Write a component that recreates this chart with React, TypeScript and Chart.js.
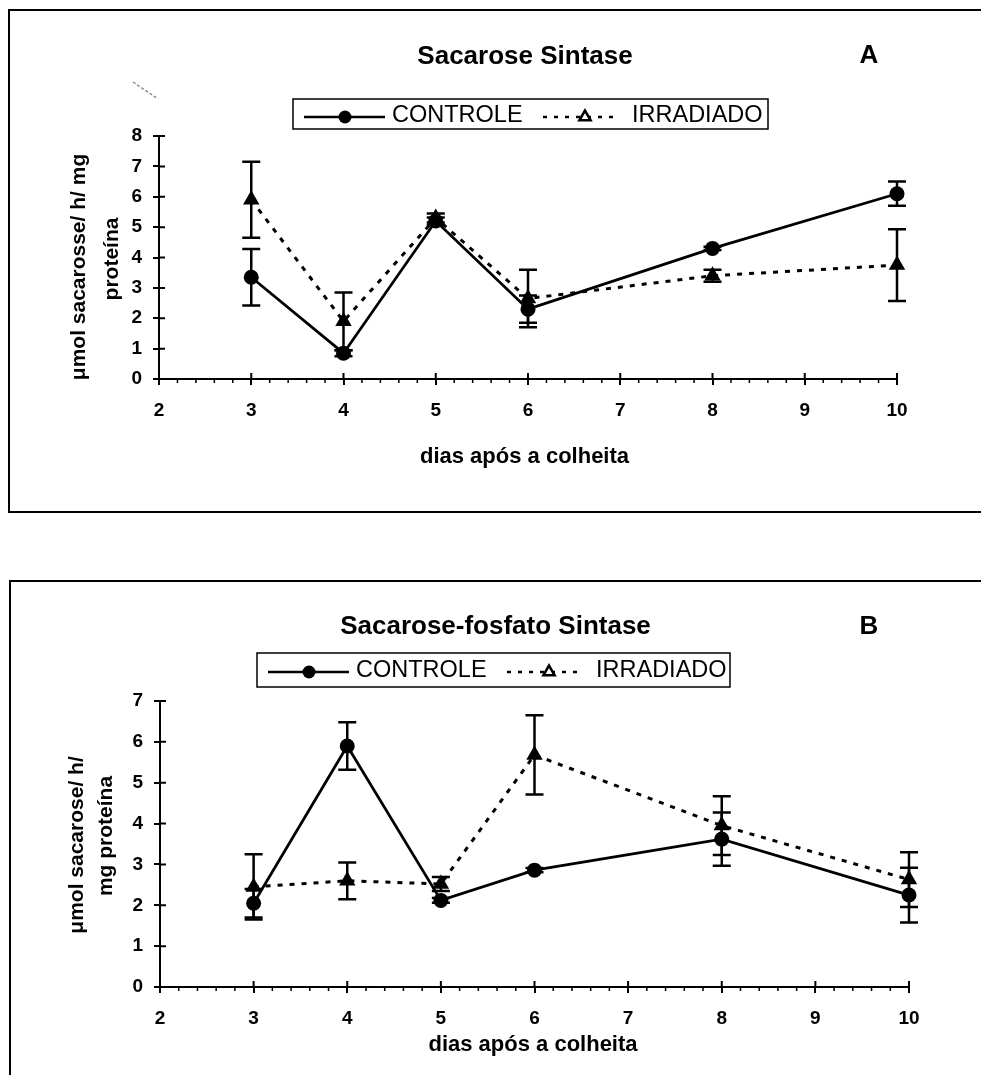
import React, { useEffect, useRef } from 'react';
import { Chart, registerables } from 'chart.js';

Chart.register(...registerables);

const FONT = '"Liberation Sans", Arial, Helvetica, sans-serif';

// ---------------- data ----------------
const days = [3, 4, 5, 6, 8, 10];
const xTickValues = [2, 3, 4, 5, 6, 7, 8, 9, 10];
const xMinorStep = 0.2;
const yTickValuesA = [0, 1, 2, 3, 4, 5, 6, 7, 8];
const yTickValuesB = [0, 1, 2, 3, 4, 5, 6, 7];
const seriesNames = ['CONTROLE', 'IRRADIADO'];

const titleA = 'Sacarose Sintase';
const titleB = 'Sacarose-fosfato Sintase';
const letterA = 'A';
const letterB = 'B';
const xAxisTitle = 'dias após a colheita';
const yAxisTitleA = ['μmol sacarosse/ h/ mg', 'proteína'];
const yAxisTitleB = ['μmol sacarose/ h/', 'mg proteína'];

// Panel A – Sacarose Sintase
const ssControle = [3.35, 0.85, 5.2, 2.3, 4.3, 6.1];
const ssControleErr = [0.93, 0.1, 0.12, 0.45, 0.05, 0.4];
const ssIrradiado = [5.9, 1.9, 5.3, 2.65, 3.4, 3.75];
const ssIrradiadoErr = [1.25, 0.95, 0.15, 0.95, 0.2, 1.18];

// Panel B – Sacarose-fosfato Sintase
const spsControle = [2.05, 5.9, 2.12, 2.86, 3.62, 2.25];
const spsControleErr = [0.35, 0.58, 0.06, 0.05, 0.65, 0.67];
const spsIrradiado = [2.45, 2.6, 2.52, 5.68, 3.95, 2.63];
const spsIrradiadoErr = [0.8, 0.45, 0.17, 0.97, 0.72, 0.67];

// ---------------- layout ----------------
const PAGE_W = 981;
const Y_AXIS_W = 59;
const X_AXIS_H = 60;

const panelA = {
  top: 0,
  height: 540,
  plot: { left: 159, right: 897, top: 136, bottom: 379 },
  yMax: 8,
  yTicks: yTickValuesA,
  frame: { left: 9, top: 10, bottom: 512 },
  title: { text: titleA, x: 525, y: 64 },
  letter: { text: letterA, x: 869, y: 63 },
  legend: { x0: 293, y0: 99, x1: 768, y1: 129, lineY: 117, textY: 122 },
  xTitle: { x: 524.5, y: 463 },
  yTitle: { lines: yAxisTitleA, x: [85, 118], y: [267, 259] },
  controle: ssControle,
  controleErr: ssControleErr,
  irradiado: ssIrradiado,
  irradiadoErr: ssIrradiadoErr,
  artifact: true,
};

const panelB = {
  top: 560,
  height: 515,
  plot: { left: 160, right: 909, top: 701, bottom: 987 },
  yMax: 7,
  yTicks: yTickValuesB,
  frame: { left: 10, top: 581, bottom: 1100 },
  title: { text: titleB, x: 495.5, y: 634 },
  letter: { text: letterB, x: 869, y: 634 },
  legend: { x0: 257, y0: 653, x1: 730, y1: 687, lineY: 672, textY: 677 },
  xTitle: { x: 533, y: 1051 },
  yTitle: { lines: yAxisTitleB, x: [83, 112], y: [845, 836] },
  controle: spsControle,
  controleErr: spsControleErr,
  irradiado: spsIrradiado,
  irradiadoErr: spsIrradiadoErr,
  artifact: false,
};

type Panel = typeof panelA;

function drawTriangle(ctx: CanvasRenderingContext2D, x: number, y: number, r: number) {
  ctx.beginPath();
  for (let k = 0; k < 3; k++) {
    const a = -Math.PI / 2 + (k * 2 * Math.PI) / 3;
    const px = x + Math.cos(a) * r;
    const py = y + Math.sin(a) * r;
    if (k === 0) ctx.moveTo(px, py);
    else ctx.lineTo(px, py);
  }
  ctx.closePath();
}

function makeDecor(p: Panel) {
  return {
    id: 'decor',
    afterDatasetsDraw(chart: any) {
      const ctx: CanvasRenderingContext2D = chart.ctx;
      const xs = chart.scales.x;
      const ys = chart.scales.y;
      ctx.save();
      ctx.strokeStyle = '#000';
      ctx.lineWidth = 2.5;
      ctx.setLineDash([]);
      const groups: [number[], number[]][] = [
        [p.controle, p.controleErr],
        [p.irradiado, p.irradiadoErr],
      ];
      groups.forEach(([vals, errs]) => {
        days.forEach((d, i) => {
          const x = xs.getPixelForValue(d);
          const yt = ys.getPixelForValue(vals[i] + errs[i]);
          const yb = ys.getPixelForValue(vals[i] - errs[i]);
          ctx.beginPath();
          ctx.moveTo(x, yt);
          ctx.lineTo(x, yb);
          ctx.moveTo(x - 9, yt);
          ctx.lineTo(x + 9, yt);
          ctx.moveTo(x - 9, yb);
          ctx.lineTo(x + 9, yb);
          ctx.stroke();
        });
      });
      ctx.restore();
    },
    afterDraw(chart: any) {
      const ctx: CanvasRenderingContext2D = chart.ctx;
      const xs = chart.scales.x;
      const ys = chart.scales.y;
      const area = chart.chartArea;
      ctx.save();
      ctx.strokeStyle = '#000';
      ctx.setLineDash([]);
      // inner halves of major ticks + minor ticks on x axis
      ctx.lineWidth = 2;
      ctx.beginPath();
      xTickValues.forEach((v) => {
        const x = xs.getPixelForValue(v);
        ctx.moveTo(x, area.bottom);
        ctx.lineTo(x, area.bottom - 6);
      });
      p.yTicks.forEach((v) => {
        const y = ys.getPixelForValue(v);
        ctx.moveTo(area.left, y);
        ctx.lineTo(area.left + 6, y);
      });
      ctx.stroke();
      ctx.lineWidth = 1.5;
      ctx.beginPath();
      const xmin = xTickValues[0];
      const xmax = xTickValues[xTickValues.length - 1];
      const nMinor = Math.round((xmax - xmin) / xMinorStep);
      for (let k = 1; k < nMinor; k++) {
        if (k % Math.round(1 / xMinorStep) === 0) continue;
        const x = xs.getPixelForValue(xmin + k * xMinorStep);
        ctx.moveTo(x, area.bottom);
        ctx.lineTo(x, area.bottom + 4);
      }
      ctx.stroke();

      // page-coordinate decorations
      ctx.translate(0, -p.top);
      // frame
      ctx.lineWidth = 2;
      ctx.beginPath();
      ctx.moveTo(PAGE_W + 5, p.frame.top);
      ctx.lineTo(p.frame.left, p.frame.top);
      ctx.lineTo(p.frame.left, p.frame.bottom);
      ctx.lineTo(PAGE_W + 5, p.frame.bottom);
      ctx.stroke();

      if (p.artifact) {
        ctx.strokeStyle = '#8a8a8a';
        ctx.lineWidth = 1.5;
        ctx.setLineDash([3, 2]);
        ctx.beginPath();
        ctx.moveTo(133, 82);
        ctx.lineTo(158, 99);
        ctx.stroke();
        ctx.setLineDash([]);
        ctx.strokeStyle = '#000';
      }

      ctx.fillStyle = '#000';
      // titles
      ctx.textAlign = 'center';
      ctx.textBaseline = 'alphabetic';
      ctx.font = `bold 26px ${FONT}`;
      ctx.fillText(p.title.text, p.title.x, p.title.y);
      ctx.fillText(p.letter.text, p.letter.x, p.letter.y);

      // x axis title
      ctx.font = `bold 22px ${FONT}`;
      ctx.fillText(xAxisTitle, p.xTitle.x, p.xTitle.y);

      // y axis title (rotated)
      ctx.font = `bold 21px ${FONT}`;
      p.yTitle.lines.forEach((line, i) => {
        ctx.save();
        ctx.translate(p.yTitle.x[i], p.yTitle.y[i]);
        ctx.rotate(-Math.PI / 2);
        ctx.fillText(line, 0, 0);
        ctx.restore();
      });

      // legend
      const L = p.legend;
      ctx.lineWidth = 1.5;
      ctx.strokeRect(L.x0, L.y0, L.x1 - L.x0, L.y1 - L.y0);
      ctx.lineWidth = 2.5;
      ctx.beginPath();
      ctx.moveTo(L.x0 + 11, L.lineY);
      ctx.lineTo(L.x0 + 92, L.lineY);
      ctx.stroke();
      ctx.beginPath();
      ctx.arc(L.x0 + 52, L.lineY, 6.5, 0, Math.PI * 2);
      ctx.fill();
      ctx.textAlign = 'left';
      ctx.font = `23.5px ${FONT}`;
      ctx.fillText(seriesNames[0], L.x0 + 99, L.textY);

      ctx.lineWidth = 2.5;
      ctx.setLineDash([4, 7]);
      ctx.beginPath();
      ctx.moveTo(L.x0 + 250, L.lineY);
      ctx.lineTo(L.x0 + 327, L.lineY);
      ctx.stroke();
      ctx.setLineDash([]);
      drawTriangle(ctx, L.x0 + 292, L.lineY, 6.5);
      ctx.fillStyle = '#fff';
      ctx.fill();
      ctx.lineWidth = 2.5;
      ctx.stroke();
      ctx.fillStyle = '#000';
      ctx.fillText(seriesNames[1], L.x0 + 339, L.textY);

      ctx.restore();
    },
  };
}

function buildConfig(p: Panel): any {
  const tickFont = { family: FONT, size: 19, weight: 'bold' as const };
  const grid = {
    display: true,
    drawOnChartArea: false,
    drawTicks: true,
    tickLength: 6,
    color: '#000',
    lineWidth: 2,
  };
  const border = { display: true, color: '#000', width: 2 };
  return {
    type: 'line',
    data: {
      datasets: [
        {
          label: seriesNames[0],
          data: days.map((d, i) => ({ x: d, y: p.controle[i] })),
          borderColor: '#000',
          backgroundColor: '#000',
          borderWidth: 2.75,
          pointStyle: 'circle',
          pointRadius: 7.5,
          pointBackgroundColor: '#000',
          pointBorderColor: '#000',
          pointBorderWidth: 0,
          tension: 0,
          fill: false,
          clip: false,
        },
        {
          label: seriesNames[1],
          data: days.map((d, i) => ({ x: d, y: p.irradiado[i] })),
          borderColor: '#000',
          backgroundColor: '#000',
          borderWidth: 3,
          borderDash: [5, 7],
          pointStyle: 'triangle',
          pointRadius: 9.5,
          pointBackgroundColor: '#000',
          pointBorderColor: '#000',
          pointBorderWidth: 0,
          tension: 0,
          fill: false,
          clip: false,
        },
      ],
    },
    options: {
      animation: false,
      responsive: false,
      devicePixelRatio: 1,
      events: [],
      layout: {
        padding: {
          left: p.plot.left - Y_AXIS_W,
          right: PAGE_W - p.plot.right,
          top: p.plot.top - p.top,
          bottom: p.height - (p.plot.bottom - p.top) - X_AXIS_H,
        },
      },
      plugins: {
        legend: { display: false },
        title: { display: false },
        tooltip: { enabled: false },
      },
      scales: {
        x: {
          type: 'linear',
          min: xTickValues[0],
          max: xTickValues[xTickValues.length - 1],
          afterBuildTicks: (s: any) => {
            s.ticks = xTickValues.map((v) => ({ value: v }));
          },
          afterFit: (s: any) => {
            s.height = X_AXIS_H;
          },
          ticks: {
            font: tickFont,
            color: '#000',
            padding: 14,
            maxRotation: 0,
            autoSkip: false,
          },
          grid,
          border,
        },
        y: {
          type: 'linear',
          min: 0,
          max: p.yMax,
          afterBuildTicks: (s: any) => {
            s.ticks = p.yTicks.map((v) => ({ value: v }));
          },
          afterFit: (s: any) => {
            s.width = Y_AXIS_W;
          },
          ticks: {
            font: tickFont,
            color: '#000',
            padding: 11,
            autoSkip: false,
          },
          grid,
          border,
        },
      },
    },
    plugins: [makeDecor(p)],
  };
}

function PanelChart({ p }: { p: Panel }) {
  const ref = useRef<HTMLCanvasElement>(null);
  useEffect(() => {
    const canvas = ref.current;
    if (!canvas) return;
    const chart = new Chart(canvas, buildConfig(p));
    return () => chart.destroy();
  }, [p]);
  return (
    <canvas
      ref={ref}
      width={PAGE_W}
      height={p.height}
      style={{ position: 'absolute', left: 0, top: p.top, width: PAGE_W, height: p.height }}
    />
  );
}

export default function App() {
  return (
    <div
      style={{
        position: 'absolute',
        left: 0,
        top: 0,
        width: PAGE_W,
        height: 1075,
        overflow: 'hidden',
        background: '#fff',
      }}
    >
      <PanelChart p={panelA} />
      <PanelChart p={panelB} />
    </div>
  );
}
